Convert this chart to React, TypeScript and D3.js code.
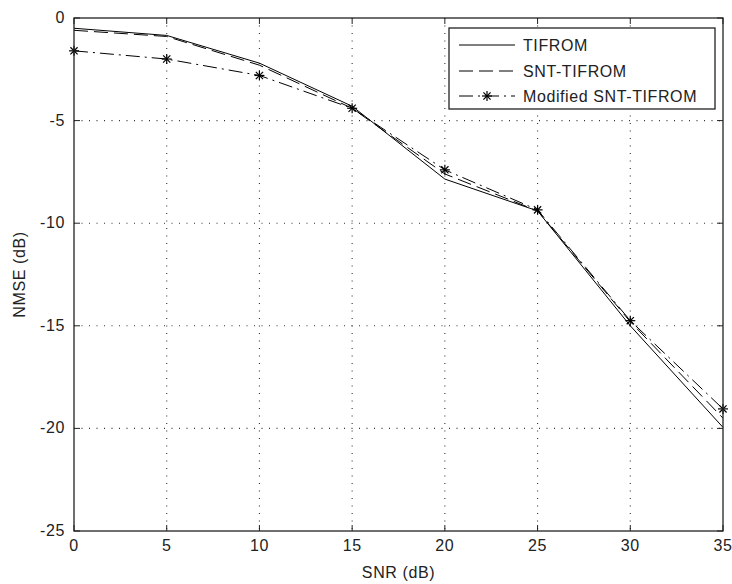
import React from "react";
import * as d3 from "d3";

const snr = [0, 5, 10, 15, 20, 25, 30, 35];
const tifrom = [-0.5, -0.85, -2.2, -4.3, -7.85, -9.4, -15.0, -19.95];
const sntTifrom = [-0.6, -0.9, -2.3, -4.4, -7.6, -9.4, -14.8, -19.5];
const modSntTifrom = [-1.6, -2.0, -2.8, -4.4, -7.4, -9.35, -14.75, -19.05];
const xTicks = [0, 5, 10, 15, 20, 25, 30, 35];
const yTicks = [0, -5, -10, -15, -20, -25];
const seriesNames = ["TIFROM", "SNT-TIFROM", "Modified SNT-TIFROM"];

const W = 732, H = 584;
const L = 74, R = 723, T = 18, B = 531;
const font = "'Liberation Sans', Arial, sans-serif";
const fs = 16;
const ls = 0.6;

function Star({ x, y }: { x: number; y: number }) {
  const r = 5;
  const d = r * 0.72;
  return (
    <g stroke="#000" strokeWidth={1.2}>
      <line x1={x - r} y1={y} x2={x + r} y2={y} />
      <line x1={x} y1={y - r} x2={x} y2={y + r} />
      <line x1={x - d} y1={y - d} x2={x + d} y2={y + d} />
      <line x1={x - d} y1={y + d} x2={x + d} y2={y - d} />
    </g>
  );
}

export default function App() {
  const x = d3.scaleLinear().domain([0, 35]).range([L, R]);
  const y = d3.scaleLinear().domain([-25, 0]).range([B, T]);
  const mk = (vals: number[]) =>
    d3.line<number>().x((_, i) => x(snr[i])).y((v) => y(v))(vals) || "";

  const styles = [
    { dash: "none" },
    { dash: "14,6" },
    { dash: "14,5,2,5" },
  ];
  const data = [tifrom, sntTifrom, modSntTifrom];

  const legX = 449, legY = 28, legW = 266, legH = 81;
  const rowY = [45, 71, 96];
  const txt = { fontFamily: font, fontSize: fs, fill: "#222", letterSpacing: ls };

  return (
    <svg width={W} height={H} style={{ position: "absolute", left: 0, top: 0, background: "#fff" }}>
      <rect x={0} y={0} width={W} height={H} fill="#fff" />
      {/* grid */}
      {xTicks.slice(1, -1).map((t) => (
        <line key={"gx" + t} x1={x(t)} x2={x(t)} y1={T} y2={B} stroke="#333" strokeWidth={1.1} strokeDasharray="1,6.5" />
      ))}
      {yTicks.slice(1, -1).map((t) => (
        <line key={"gy" + t} x1={L} x2={R} y1={y(t)} y2={y(t)} stroke="#333" strokeWidth={1.1} strokeDasharray="1,6.5" />
      ))}
      {/* ticks */}
      {xTicks.map((t) => (
        <g key={"tx" + t}>
          <line x1={x(t)} x2={x(t)} y1={B} y2={B - 6} stroke="#222" />
          <line x1={x(t)} x2={x(t)} y1={T} y2={T + 6} stroke="#222" />
          <text x={x(t)} y={B + 20} textAnchor="middle" {...txt}>{t}</text>
        </g>
      ))}
      {yTicks.map((t) => (
        <g key={"ty" + t}>
          <line x1={L} x2={L + 6} y1={y(t)} y2={y(t)} stroke="#222" />
          <line x1={R} x2={R - 6} y1={y(t)} y2={y(t)} stroke="#222" />
          <text x={L - 9} y={y(t) + 5} textAnchor="end" {...txt}>{t}</text>
        </g>
      ))}
      {/* data */}
      {data.map((vals, i) => (
        <path key={"s" + i} d={mk(vals)} fill="none" stroke="#000" strokeWidth={1} strokeDasharray={styles[i].dash} />
      ))}
      {modSntTifrom.map((v, i) => (
        <Star key={"m" + i} x={x(snr[i])} y={y(v)} />
      ))}
      {/* axes box */}
      <rect x={L} y={T} width={R - L} height={B - T} fill="none" stroke="#222" strokeWidth={1.3} />
      {/* legend */}
      <rect x={legX} y={legY} width={legW} height={legH} fill="#fff" stroke="#222" strokeWidth={1.3} />
      {seriesNames.map((n, i) => (
        <g key={"l" + i}>
          <line x1={459} x2={515} y1={rowY[i]} y2={rowY[i]} stroke="#000" strokeDasharray={styles[i].dash} />
          {i === 2 && <Star x={487} y={rowY[i]} />}
          <text x={523} y={rowY[i] + 6} {...txt}>{n}</text>
        </g>
      ))}
      {/* axis labels */}
      <text x={(L + R) / 2} y={578} textAnchor="middle" {...txt}>SNR (dB)</text>
      <text transform={`translate(25,${(T + B) / 2}) rotate(-90)`} textAnchor="middle" {...txt}>NMSE (dB)</text>
    </svg>
  );
}
